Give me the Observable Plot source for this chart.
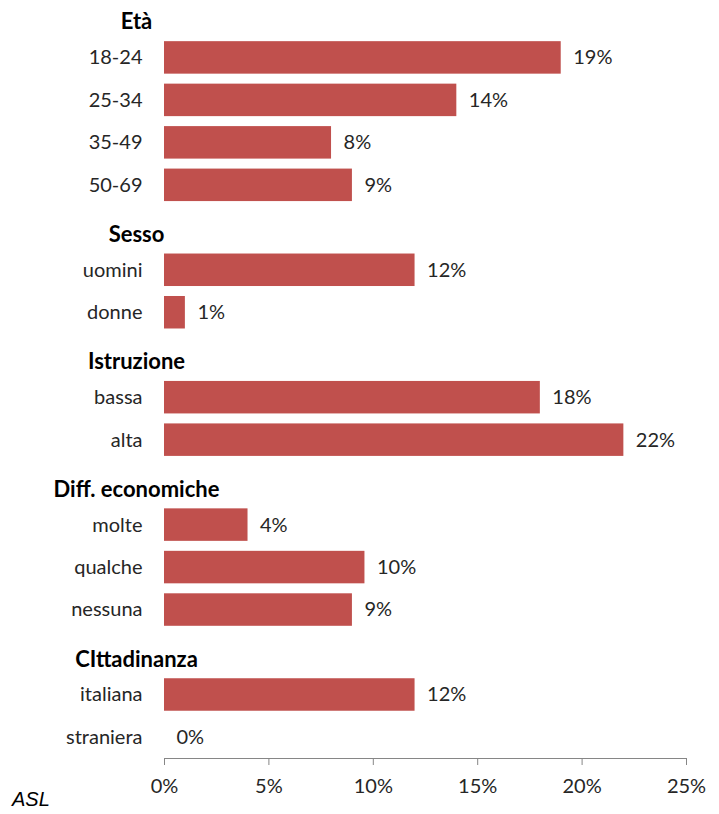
<!DOCTYPE html>
<html>
<head>
<meta charset="utf-8">
<script src="https://cdn.jsdelivr.net/npm/d3@7"></script>
<script src="https://cdn.jsdelivr.net/npm/@observablehq/plot@0.6"></script>
<style>
  html, body { margin: 0; padding: 0; background: #fff; }
  #wrap { position: relative; width: 719px; height: 814px; }
  #src { position: absolute; left: 12px; top: 788px; font: italic 20px "Liberation Sans", Arial, sans-serif; color: #000; }
  svg text { font-family: Lato, "Open Sans", sans-serif; }
</style>
</head>
<body>
<div id="wrap"><div id="chart"></div><div id="src">ASL</div></div>
<script>
// Row order (group headers and categories), top to bottom
const groups = ["Età", "Sesso", "Istruzione", "Diff. economiche", "CIttadinanza"];
const categories = [
  ["18-24", "25-34", "35-49", "50-69"],
  ["uomini", "donne"],
  ["bassa", "alta"],
  ["molte", "qualche", "nessuna"],
  ["italiana", "straniera"]
];
const values = [
  [19, 14, 8, 9],
  [12, 1],
  [18, 22],
  [4, 9.6, 9],
  [12, 0]
];
const xTicks = [0, 5, 10, 15, 20, 25];

const rows = [];
const data = [];
const headers = [];
groups.forEach((g, gi) => {
  const hk = "H:" + g;
  rows.push(hk);
  headers.push({key: hk, label: g});
  categories[gi].forEach((c, ci) => {
    const k = g + ":" + c;
    rows.push(k);
    data.push({key: k, label: c, value: values[gi][ci]});
  });
});

const chart = Plot.plot({
  width: 719,
  height: 814,
  marginLeft: 164,
  marginRight: 33,
  marginTop: 0,
  marginBottom: 56,
  style: {fontSize: "20px", color: "#262626", background: "#fff"},
  x: {domain: [0, 25], axis: null, label: null},
  y: {domain: rows, range: [-6.3, 758.2], paddingInner: 0.235, paddingOuter: 0.1175, round: false, axis: null},
  marks: [
    Plot.barX(data, {y: "key", x: "value", fill: "#C0504D"}),
    Plot.text(data, {y: "key", x: "value", text: d => Math.round(d.value) + "%", textAnchor: "start", dx: 12, fill: "#262626", fontSize: 20}),
    Plot.text(data, {y: "key", text: "label", frameAnchor: "left", textAnchor: "end", dx: -22, fill: "#262626", fontSize: 20}),
    Plot.text(headers, {y: "key", text: "label", frameAnchor: "left", textAnchor: "middle", dx: -28, dy: 7, fill: "#000", fontWeight: "bold", fontSize: 22}),
    Plot.frame({anchor: "bottom", stroke: "#868686"}),
    Plot.axisX({ticks: xTicks, tickFormat: d => d + "%", label: null, tickSize: 7, tickPadding: 13, stroke: "#868686", fill: "#262626", fontSize: 20})
  ]
});
document.getElementById("chart").appendChild(chart);
</script>
</body>
</html>
